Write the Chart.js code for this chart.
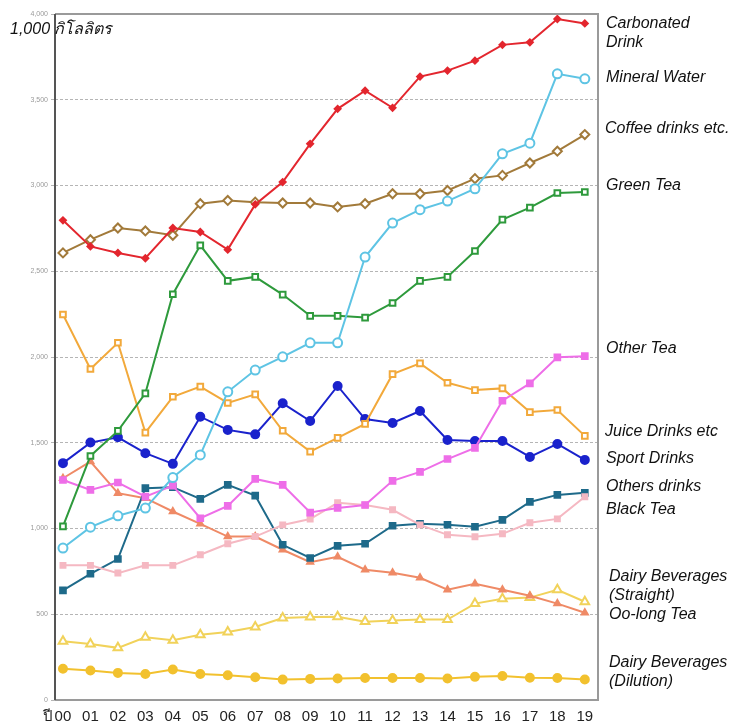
<!DOCTYPE html>
<html>
<head>
<meta charset="utf-8">
<script src="https://cdn.jsdelivr.net/npm/chart.js@4"></script>
<style>
html,body{margin:0;padding:0;background:#fff;}
#c{display:block;}
</style>
</head>
<body>
<canvas id="c" width="731" height="727"></canvas>
<script>
// ---- data ----
const years = ['00','01','02','03','04','05','06','07','08','09','10','11','12','13','14','15','16','17','18','19'];
const yTickValues = [0,500,1000,1500,2000,2500,3000,3500,4000];
const unitTitle = '1,000 กิโลลิตร';
const yearPrefix = 'ปี';

const carbonated   = [2797,2645,2607,2576,2752,2729,2626,2890,3020,3243,3447,3553,3453,3635,3670,3728,3820,3835,3971,3945];
const mineralWater = [886,1008,1074,1119,1297,1429,1797,1924,2001,2083,2083,2583,2781,2859,2909,2981,3185,3247,3651,3622];
const coffee       = [2607,2684,2752,2735,2710,2894,2913,2903,2898,2898,2875,2894,2952,2952,2971,3040,3059,3131,3200,3297];
const greenTea     = [1012,1423,1569,1788,2366,2651,2444,2467,2364,2240,2240,2230,2315,2444,2467,2618,2801,2871,2956,2962];
const otherTea     = [1283,1225,1268,1186,1250,1060,1132,1289,1254,1093,1120,1137,1278,1330,1405,1470,1745,1846,1998,2005];
const juice        = [2248,1930,2083,1559,1768,1827,1732,1782,1570,1448,1528,1610,1900,1963,1850,1807,1817,1679,1691,1540];
const sport        = [1381,1501,1532,1439,1377,1652,1575,1549,1730,1627,1831,1638,1615,1685,1516,1510,1510,1417,1493,1400];
const othersDrinks = [785,785,740,785,785,847,911,953,1021,1055,1150,1137,1109,1021,963,952,969,1033,1056,1185];
const blackTea     = [639,736,822,1235,1241,1173,1254,1192,905,828,899,911,1016,1027,1022,1010,1050,1155,1196,1208];
const dairyStraight= [1293,1390,1206,1177,1099,1027,953,953,876,804,835,760,742,713,643,678,643,608,562,509];
const oolong       = [342,327,304,366,348,381,397,426,478,484,486,457,463,469,469,562,591,597,643,573];
const dairyDilution= [182,172,158,152,178,152,144,133,119,123,125,128,128,128,125,135,140,130,128,120];

const seriesNames = ['Carbonated|Drink','Mineral Water','Coffee drinks etc.','Green Tea','Other Tea','Juice Drinks etc','Sport Drinks','Others drinks','Black Tea','Dairy Beverages|(Straight)','Oo-long Tea','Dairy Beverages|(Dilution)'];

// ---- layout / style (not data) ----
const labelY = [24,78,129,186,349,432,459,487,510,577,615,663];
const labelX = [606,606,605,606,606,605,606,606,606,609,609,609];
const FONT = '"Liberation Sans", Arial, "Noto Sans", "DejaVu Sans", sans-serif';

function ds(data, color, style, radius, filled) {
  return {
    data: data.map((v,i)=>({x:i,y:v})),
    borderColor: color,
    backgroundColor: filled ? color : '#ffffff',
    pointStyle: style,
    pointRadius: radius,
    pointHoverRadius: radius,
    pointBorderColor: color,
    pointBackgroundColor: filled ? color : '#ffffff',
    pointBorderWidth: 2,
    borderWidth: 2,
    tension: 0,
    fill: false
  };
}

const datasets = [
  ds(carbonated,   '#e3262e','rectRot',3,true),
  ds(mineralWater, '#5ec4e4','circle',4.5,false),
  ds(coffee,       '#a27a3a','rectRot',4.5,false),
  ds(greenTea,     '#2e9a3c','rect',4,false),
  ds(otherTea,     '#ee6ee8','rect',4,true),
  ds(juice,        '#f2a93b','rect',4,false),
  ds(sport,        '#1a22cc','circle',4,true),
  ds(othersDrinks, '#f5b8c2','rect',3.5,true),
  ds(blackTea,     '#1e6a8a','rect',4,true),
  ds(dairyStraight,'#ef8a66','triangle',3.5,true),
  ds(oolong,       '#f1d25a','triangle',5,false),
  ds(dairyDilution,'#f2c12e','circle',4,true)
];

const overlay = {
  id: 'overlay',
  afterDraw(chart) {
    const ctx = chart.ctx;
    const a = chart.chartArea;
    ctx.save();
    // frame
    ctx.strokeStyle = '#9a9a9a';
    ctx.lineWidth = 2;
    ctx.beginPath();
    ctx.moveTo(a.left, a.top); ctx.lineTo(a.right, a.top);
    ctx.lineTo(a.right, a.bottom); ctx.lineTo(a.left, a.bottom);
    ctx.stroke();
    ctx.strokeStyle = '#555';
    ctx.lineWidth = 2;
    ctx.beginPath();
    ctx.moveTo(a.left, a.top); ctx.lineTo(a.left, a.bottom);
    ctx.stroke();
    // unit title
    ctx.fillStyle = '#111';
    ctx.font = 'italic 16px ' + FONT;
    ctx.textBaseline = 'middle';
    ctx.textAlign = 'left';
    ctx.fillText(unitTitle, 10, 30);
    // year prefix
    ctx.font = '15px ' + FONT;
    ctx.fillStyle = '#222';
    ctx.textAlign = 'right';
    ctx.fillText(yearPrefix, 53, 717);
    // series labels
    ctx.font = 'italic 16px ' + FONT;
    ctx.fillStyle = '#111';
    ctx.textAlign = 'left';
    seriesNames.forEach((n, i) => {
      n.split('|').forEach((line, j) => {
        ctx.fillText(line, labelX[i], labelY[i] + j * 18.5);
      });
    });
    ctx.restore();
  }
};

new Chart(document.getElementById('c'), {
  type: 'line',
  data: { datasets },
  plugins: [overlay],
  options: {
    responsive: false,
    animation: false,
    devicePixelRatio: 1,
    layout: { padding: { top: 14, right: 133, left: 0, bottom: 0 } },
    plugins: { legend: { display: false }, tooltip: { enabled: false } },
    scales: {
      x: {
        type: 'linear',
        min: -0.29,
        max: 19.48,
        afterBuildTicks: s => { s.ticks = years.map((_, i) => ({ value: i })); },
        afterFit: s => { s.height = 27; },
        grid: { display: false, drawTicks: false },
        border: { display: false },
        ticks: {
          autoSkip: false,
          maxRotation: 0,
          padding: 8,
          color: '#222',
          font: { size: 15, family: FONT },
          callback: v => years[v] ?? ''
        }
      },
      y: {
        min: 0,
        max: 4000,
        afterBuildTicks: s => { s.ticks = yTickValues.map(v => ({ value: v })); },
        afterFit: s => { s.width = 55; },
        grid: {
          color: '#b5b5b5',
          lineWidth: 1,
          tickLength: 4,
          drawTicks: true
        },
        border: { display: false, dash: [3, 2] },
        ticks: {
          padding: 3,
          color: '#9a9a9a',
          font: { size: 7, family: FONT },
          callback: v => v.toLocaleString('en-US')
        }
      }
    }
  }
});
</script>
</body>
</html>
